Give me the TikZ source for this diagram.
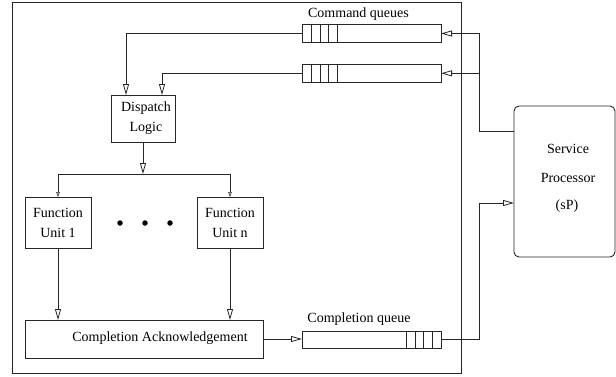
\documentclass[tikz,border=0pt]{standalone}
\usepackage{fontspec}
\setmainfont{Liberation Serif}
\usetikzlibrary{arrows.meta}
\begin{document}
\begin{tikzpicture}[x=1pt,y=-1pt,
  every node/.style={inner sep=0pt, outer sep=0pt},
  ln/.style={line width=0.9pt, draw=black!85},
  arr/.style={ln, -{Triangle[open,length=11pt,width=6pt,line width=0.8pt]}},
  sarr/.style={ln, -{Triangle[open,length=5pt,width=3.5pt,line width=0.6pt]}},
  box/.style={ln, rectangle, font=\fontsize{14}{20}\selectfont, align=center},
  txt/.style={font=\fontsize{14}{16}\selectfont},
  queue/.style={ln, rectangle, minimum width=139pt, minimum height=18pt},
  dotc/.style={circle, fill=black, minimum size=5.5pt}]
\useasboundingbox (0,0) rectangle (616,376);
% outer container
\node[ln, rectangle, minimum width=449pt, minimum height=371pt] (outer) at (236.5,187.5) {};
% queues
\node[queue] (cq1) at (371.5,33.5) {};
\node[queue] (cq2) at (371.5,73.3) {};
\node[queue, minimum height=17pt] (compq) at (371.5,339.5) {};
\foreach \q in {cq1,cq2}{
  \foreach \d in {9,18,26,35}{
    \draw[ln] ([xshift=\d pt]\q.north west) -- ([xshift=\d pt]\q.south west);
  }
}
\foreach \d in {9,18,26,35}{
  \draw[ln] ([xshift=-\d pt]compq.north east) -- ([xshift=-\d pt]compq.south east);
}
\node[txt] (cqlab) at (358.5,14.5) {Command queues};
\node[txt] (compqlab) at (359,319) {Completion queue};
% service processor
\node[ln, rectangle, rounded corners=5pt, minimum width=101pt, minimum height=151pt] (sp) at (564.5,181.5) {};
\node[txt] (sp1) at (568,149) {Service};
\node[txt] (sp2) at (568,177.5) {Processor};
\node[txt] (sp3) at (567,206) {(sP)};
% dispatch
\node[box, minimum width=64pt, minimum height=47pt] (dispatch) at (143,118.5) {\hspace*{6pt}Dispatch\\\hspace*{6pt}Logic};
% function units
\node[box, minimum width=66pt, minimum height=51pt] (fu1) at (58,222.5) {Function\\Unit 1};
\node[box, minimum width=66pt, minimum height=51pt] (fun) at (230,222.5) {Function\\Unit n};
\node[dotc] (d1) at (120,223) {};
\node[dotc] (d2) at (145,223) {};
\node[dotc] (d3) at (170,223) {};
% completion acknowledgement
\node[ln, rectangle, minimum width=238pt, minimum height=38pt] (ack) at (144,339) {};
\node[txt] (acktxt) at (160,338) {Completion Acknowledgement};
% connectors: command queues to dispatch
\draw[arr] (cq1.west) -| ([xshift=15pt]dispatch.north west);
\draw[arr] (cq2.west) -| ([xshift=51pt]dispatch.north west);
% sP to command queues
\coordinate (j1) at (479,131);
\coordinate (j2) at (479,203);
\draw[ln] (sp.west |- j1) -- (j1);
\draw[arr] (j1) |- (cq1.east);
\draw[arr] (j1) |- (cq2.east);
% completion queue to sP
\draw[arr] (compq.east) -| (j2) -- (sp.west |- j2);
% dispatch to function units
\coordinate (bus) at (144,174);
\draw[arr] (dispatch.south) -- (dispatch.south |- bus);
\draw[ln] (fu1.north |- bus) -- (fun.north |- bus);
\draw[sarr] (fu1.north |- bus) -- (fu1.north);
\draw[sarr] (fun.north |- bus) -- (fun.north);
% function units to completion acknowledgement
\draw[arr] (fu1.south) -- (fu1.south |- ack.north);
\draw[arr] (fun.south) -- (fun.south |- ack.north);
% ack to completion queue
\draw[arr] (ack.east) -- (ack.east -| compq.west);
\end{tikzpicture}
\end{document}
